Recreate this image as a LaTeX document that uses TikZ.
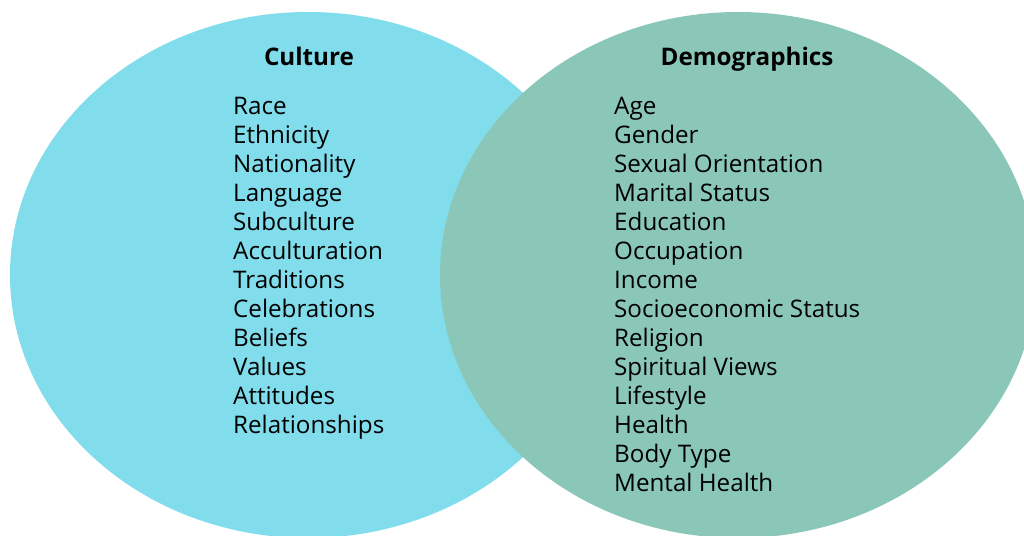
\documentclass[tikz,border=0pt]{standalone}
\usepackage{fontspec}
\setmainfont{Open Sans}
\definecolor{cultcol}{RGB}{129,221,235}
\definecolor{democol}{RGB}{139,199,185}
\begin{document}
\begin{tikzpicture}[x=1pt,y=-1pt,
  item/.style={anchor=base west,inner sep=0pt,font=\fontsize{24.2}{28}\selectfont},
  title/.style={anchor=base,inner sep=0pt,font=\fontsize{24.2}{28}\selectfont\bfseries}]
\useasboundingbox (0,0) rectangle (1024,535);
\fill[cultcol] (308,275) ellipse [x radius=298, y radius=263];
\fill[democol] (738,275) ellipse [x radius=298, y radius=263];
\node[title] (culture) at (309,66) {Culture};
\node[title] (demo) at (747,66) {Demographics};
\foreach \t [count=\i] in {Race,Ethnicity,Nationality,Language,Subculture,Acculturation,Traditions,Celebrations,Beliefs,Values,Attitudes,Relationships}
  \node[item] (c\i) at (233,{114.5+(\i-1)*29}) {\t};
\foreach \t [count=\i] in {Age,Gender,Sexual Orientation,Marital Status,Education,Occupation,Income,Socioeconomic Status,Religion,Spiritual Views,Lifestyle,Health,Body Type,Mental Health}
  \node[item] (d\i) at (614,{114.5+(\i-1)*29}) {\t};
\end{tikzpicture}
\end{document}
